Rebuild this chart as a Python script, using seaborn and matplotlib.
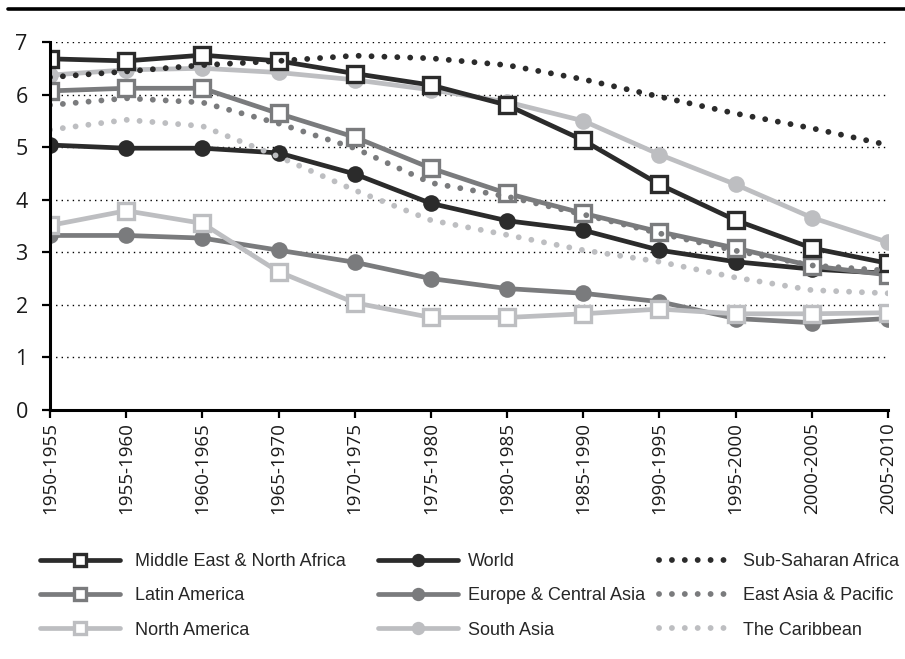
import matplotlib
matplotlib.use("Agg")
import matplotlib.pyplot as plt
import seaborn as sns
import pandas as pd
from matplotlib.lines import Line2D

periods = ["1950-1955", "1955-1960", "1960-1965", "1965-1970", "1970-1975", "1975-1980",
           "1980-1985", "1985-1990", "1990-1995", "1995-2000", "2000-2005", "2005-2010"]

mena  = [6.68, 6.64, 6.75, 6.64, 6.40, 6.18, 5.80, 5.13, 4.29, 3.61, 3.08, 2.79]
world = [5.04, 4.98, 4.98, 4.89, 4.49, 3.93, 3.60, 3.42, 3.04, 2.82, 2.68, 2.60]
latam = [6.07, 6.12, 6.12, 5.64, 5.19, 4.60, 4.12, 3.74, 3.39, 3.08, 2.74, 2.57]
eca   = [3.32, 3.32, 3.27, 3.04, 2.81, 2.50, 2.31, 2.22, 2.06, 1.74, 1.66, 1.74]
nam   = [3.51, 3.79, 3.55, 2.63, 2.04, 1.76, 1.76, 1.83, 1.92, 1.83, 1.83, 1.85]
sasia = [6.37, 6.47, 6.50, 6.42, 6.28, 6.09, 5.86, 5.50, 4.86, 4.29, 3.66, 3.19]
ssa   = [6.33, 6.44, 6.56, 6.64, 6.74, 6.69, 6.56, 6.29, 5.96, 5.64, 5.36, 5.04]
eap   = [5.80, 5.93, 5.85, 5.45, 4.98, 4.32, 4.06, 3.72, 3.36, 3.03, 2.75, 2.65]
carib = [5.33, 5.52, 5.40, 4.82, 4.18, 3.61, 3.33, 3.04, 2.82, 2.52, 2.28, 2.22]

yticks = [0, 1, 2, 3, 4, 5, 6, 7]

DARK = "#2b2b2b"
MID = "#7a7b7d"
LIGHT = "#bdbec1"

sns.set_theme(style="white")
plt.rcParams['font.family'] = ['Open Sans', 'DejaVu Sans']

fig = plt.figure(figsize=(9.05, 6.59), dpi=100)
ax = fig.add_axes([50/905, 1-410/659, (888-50)/905, (410-42)/659])

def solid(vals, color, marker, label, z):
    df = pd.DataFrame({"period": periods, "v": vals})
    if marker == "s":
        sns.lineplot(data=df, x="period", y="v", ax=ax, color=color, lw=3.4,
                     marker="s", markersize=11, markerfacecolor="white",
                     markeredgecolor=color, markeredgewidth=2.4, label=label,
                     zorder=z, sort=False)
    else:
        sns.lineplot(data=df, x="period", y="v", ax=ax, color=color, lw=3.4,
                     marker="o", markersize=12, markerfacecolor=color,
                     markeredgecolor=color, markeredgewidth=0, label=label,
                     zorder=z, sort=False)

def dotted(vals, color, label, z):
    df = pd.DataFrame({"period": periods, "v": vals})
    sns.lineplot(data=df, x="period", y="v", ax=ax, color=color, lw=4.2,
                 linestyle=(0, (0.01, 2.2)), dash_capstyle="round",
                 label=label, zorder=z, sort=False)

solid(sasia, LIGHT, "o", "South Asia", 3)
solid(eca, MID, "o", "Europe & Central Asia", 3.1)
solid(world, DARK, "o", "World", 3.2)
solid(nam, LIGHT, "s", "North America", 3.3)
solid(latam, MID, "s", "Latin America", 3.4)
solid(mena, DARK, "s", "Middle East & North Africa", 3.5)
dotted(ssa, DARK, "Sub-Saharan Africa", 4)
dotted(eap, MID, "East Asia & Pacific", 4.1)
dotted(carib, LIGHT, "The Caribbean", 4.2)

ax.set_xlim(0, len(periods) - 1)
ax.set_ylim(0, 7)
ax.set_yticks(yticks)
ax.set_xlabel("")
ax.set_ylabel("")
for y in yticks[1:]:
    ax.axhline(y, color="black", lw=1.0, linestyle=(0, (1, 3)), zorder=1)

for s in ["top", "right"]:
    ax.spines[s].set_visible(False)
for s in ["left", "bottom"]:
    ax.spines[s].set_color("black")
    ax.spines[s].set_linewidth(2.2)
    ax.spines[s].set_zorder(5)

ax.tick_params(axis="x", which="major", direction="out", length=6, width=1.6,
               color="black", labelsize=13.5, pad=3, labelrotation=90,
               bottom=True)
ax.tick_params(axis="y", which="major", direction="out", length=6, width=1.6,
               color="black", labelsize=15.5, pad=10, left=True)
for lab in ax.get_xticklabels() + ax.get_yticklabels():
    lab.set_color("#1a1a1a")

# top rule
fig.add_artist(Line2D([8/905, 1.0], [1 - 9/659, 1 - 9/659], color="black", lw=2.6,
                      transform=fig.transFigure))

handles, labels = ax.get_legend_handles_labels()
ax.get_legend().remove()
hmap = dict(zip(labels, handles))
columns = [
    (40, 4.45, 0.8, ["Middle East & North Africa", "Latin America", "North America"]),
    (378, 4.45, 0.55, ["World", "Europe & Central Asia", "South Asia"]),
    (659, 4.2, 0.45, ["Sub-Saharan Africa", "East Asia & Pacific", "The Caribbean"]),
]
for xpx, hl, tp, names in columns:
    fig.legend([hmap[k] for k in names], names, loc="upper left",
               bbox_to_anchor=(xpx/905, 1 - 553/659), ncol=1, frameon=False,
               handlelength=hl, handletextpad=tp, markerscale=0.8,
               labelspacing=0.96, borderaxespad=0, borderpad=0,
               prop={"family": "Liberation Sans", "size": 13})

fig.savefig("out.png", dpi=100)
